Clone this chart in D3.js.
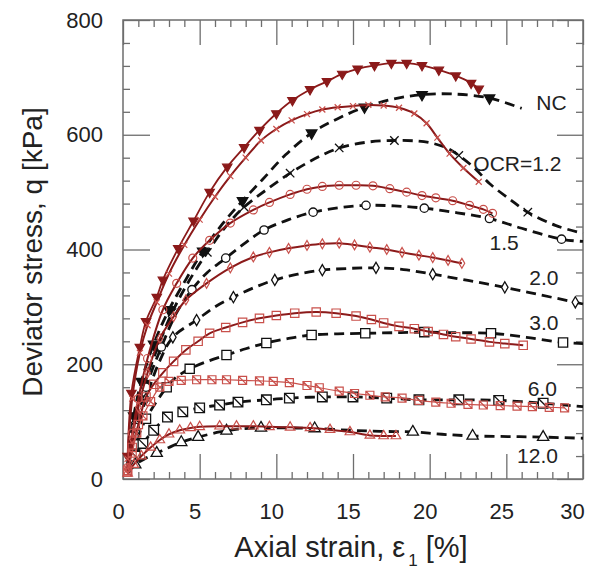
<!DOCTYPE html>
<html><head><meta charset="utf-8">
<script src="https://cdn.jsdelivr.net/npm/d3@7"></script>
<style>
html,body{margin:0;padding:0;background:#fff;}
svg{display:block;font-family:"Liberation Sans",Arial,sans-serif;}
</style></head>
<body>
<svg id="chart" width="589" height="569"></svg>
<script>
// ---------- data (axial strain %, deviator stress kPa) ----------
const xTicks = [0, 5, 10, 15, 20, 25, 30];
const yTicks = [0, 200, 400, 600, 800];
const ocrLabels = ["NC", "OCR=1.2", "1.5", "2.0", "3.0", "6.0", "12.0"];

// simulations (solid red lines, marker at every point)
const redNC = [[0.3,40],[0.55,150],[1.1,230],[1.5,275],[2.2,317],[2.6,347],[3.6,402],[4.6,450],[5.65,500],[6.8,544],[7.9,578],[8.9,608],[10.0,637],[11.05,660],[12.2,679],[13.3,693],[14.3,706],[15.3,715],[16.4,721],[17.5,725],[18.5,725],[19.5,721],[20.6,713],[21.7,703],[22.7,690],[23.2,680]];
const red12 = [[0.3,35],[0.6,140],[1.1,220],[1.6,268],[2.2,308],[3.0,358],[4.0,408],[5.0,452],[6.0,492],[7.0,528],[8.0,560],[9.0,590],[10.0,610],[11.0,625],[12.0,636],[13.0,644],[14.0,648],[15.0,650],[16.0,652],[17.0,651],[18.0,647],[19.0,637],[19.8,620],[20.5,595],[21.3,567],[22.2,542],[23.2,518]];
const red15 = [[0.3,20],[0.6,80],[1.0,140],[1.6,210],[2.6,295],[3.5,341],[4.55,385],[5.65,416],[7.0,446],[8.5,469],[9.55,482],[10.9,496],[12.0,505],[13.0,510],[14.1,512],[15.2,512],[16.3,511],[17.4,506],[18.5,500],[19.5,494],[20.4,490],[21.5,485],[22.6,477],[23.5,470],[24.1,463]];
const red20 = [[0.3,18],[0.6,70],[1.0,125],[1.6,185],[2.4,245],[3.3,283],[4.1,312],[5.45,341],[7.0,368],[8.5,387],[9.55,395],[10.8,402],[12.0,407],[13.0,410],[14.1,411],[15.1,408],[16.1,404],[17.2,400],[18.2,395],[19.3,390],[20.2,386],[21.2,381],[22.1,376]];
const red30 = [[0.3,15],[0.6,55],[1.0,95],[1.5,143],[2.0,165],[2.6,185],[3.3,205],[4.1,225],[4.9,240],[5.65,254],[6.7,264],[7.8,273],[8.9,280],[10.0,285],[11.2,289],[12.6,291],[13.9,289],[15.2,284],[16.2,278],[17.0,272],[18.0,266],[19.0,262],[19.9,257],[20.9,252],[21.7,248],[22.7,244],[23.9,239],[24.9,236],[26.1,233]];
const red60 = [[0.3,12],[0.6,45],[0.9,80],[1.3,110],[1.8,135],[2.4,160],[3.0,170],[3.8,172],[4.8,173],[5.8,173],[6.75,173],[7.8,172],[8.9,171],[9.8,170],[10.85,168],[12.0,163],[12.8,159],[14.1,153],[15.1,149],[16.1,146],[17.1,143],[18.2,141],[19.3,137],[20.4,134],[21.4,132],[22.5,130],[23.5,129],[24.6,128],[25.7,127],[26.7,126],[27.8,125],[28.8,124]];
const red120 = [[0.3,10],[0.7,25],[1.2,40],[1.8,55],[2.4,68],[3.0,78],[3.7,85],[4.4,89],[5.0,91],[6.3,92],[7.4,92],[8.5,92],[9.55,91],[10.9,90],[12.2,89],[13.5,86],[14.8,82],[16.1,76],[17.0,75],[17.8,75]];

// experiments (dashed black lines, third value = 1 where a marker is drawn)
const blackNC = [[0.3,25,0],[0.7,110,1],[1.2,170,1],[2.0,235,1],[3.0,295,1],[4.15,350,0],[5.2,397,1],[6.5,445,0],[7.8,485,1],[9.1,522,0],[10.6,565,0],[12.3,603,1],[14.0,628,0],[15.75,648,1],[17.6,662,0],[19.5,670,1],[21.5,671,0],[23.9,664,1],[26.0,646,0]];
const black12 = [[0.3,25,0],[0.8,105,1],[1.4,165,1],[2.2,225,1],[3.2,290,1],[4.3,345,0],[5.5,395,1],[6.7,440,0],[7.9,474,1],[9.4,505,0],[10.9,533,1],[12.5,558,0],[14.1,577,1],[15.9,587,0],[17.7,590,1],[19.2,589,0],[20.2,585,0],[21.1,577,0],[21.9,564,1],[23.0,540,0],[23.9,515,0],[25.2,488,0],[26.4,465,1],[28.2,442,0],[30,428,0]];
const black15 = [[0.3,20,0],[0.8,90,1],[1.5,160,1],[2.5,230,1],[3.5,290,0],[4.5,330,1],[5.5,360,0],[6.7,385,1],[8.0,412,0],[9.2,434,1],[10.8,452,0],[12.4,465,1],[14.1,473,0],[15.85,477,1],[17.7,476,0],[19.65,472,1],[21.8,464,0],[23.9,454,1],[26.0,437,0],[28.6,418,1],[30,414,0]];
const black20 = [[0.3,18,0],[0.8,75,1],[1.5,140,1],[2.3,200,0],[3.25,247,1],[4.8,277,1],[6.0,300,0],[7.2,317,1],[8.5,333,0],[9.9,347,1],[11.4,357,0],[13.0,364,1],[14.7,367,0],[16.5,368,1],[18.3,365,0],[20.2,357,1],[22.5,346,0],[24.9,334,1],[27.2,321,0],[29.5,308,1],[30,305,0]];
const black30 = [[0.3,15,0],[0.8,60,1],[1.5,105,1],[2.85,160,1],[3.4,176,0],[4.35,192,1],[5.5,205,0],[6.75,216,1],[8.0,227,0],[9.35,237,1],[10.8,245,0],[12.3,251,1],[14.0,253,0],[15.8,254,1],[17.7,255,0],[19.65,256,1],[21.8,255,0],[24.0,254,1],[26.3,247,0],[28.7,238,1],[30,236,0]];
const black60 = [[0.3,12,0],[0.8,40,1],[1.3,62,1],[2.0,85,1],[2.9,108,1],[3.9,117,1],[5.0,124,1],[6.3,129,1],[7.5,134,1],[9.35,138,1],[10.85,141,1],[13.0,143,1],[15.0,143,1],[17.2,141,1],[19.3,138,1],[21.9,138,1],[24.5,137,1],[27.4,132,1],[30,126,0]];
const black120 = [[0.3,10,0],[0.8,25,1],[1.4,35,0],[2.2,45,1],[3.0,55,0],[3.8,64,1],[4.9,73,1],[6.3,82,0],[6.75,84,1],[7.5,87,0],[9.0,89,1],[10.85,89,0],[12.5,88,1],[14.8,85,0],[16.8,83,0],[18.9,82,1],[20.8,78,0],[22.8,75,1],[25.1,74,0],[27.4,73,1],[30,71,0]];

// ---------- layout ----------
const x = d3.scaleLinear().domain([0, 30]).range([123, 583]);
const y = d3.scaleLinear().domain([0, 800]).range([479, 20]);
const svg = d3.select("#chart");
const TXT = "#222", AX = "#6e6e6e";
const DARKRED = "#8b1a1a", LIGHTRED = "#c9504b", BLACK = "#111";

// axes with inward ticks on all sides
const minorX = d3.range(0, 31, 1).filter(v => v % 5 !== 0);
const minorY = d3.range(0, 801, 40).filter(v => v % 200 !== 0);
function styleAxis(g){ g.select(".domain").remove(); g.selectAll("line").attr("stroke", AX).attr("stroke-width", 1.3); g.selectAll("text").attr("fill", TXT).attr("font-size", 22); }
svg.append("g").attr("transform","translate(0,479)").call(d3.axisBottom(x).tickValues(xTicks).tickSize(-25).tickPadding(24).tickFormat(d3.format("d"))).call(styleAxis)
  .selectAll("text").attr("dx", d => d === 30 ? -11 : -5);
svg.append("g").attr("transform","translate(0,479)").call(d3.axisBottom(x).tickValues(minorX).tickSize(-7).tickFormat("")).call(styleAxis);
svg.append("g").attr("transform","translate(0,20)").call(d3.axisTop(x).tickValues(xTicks).tickSize(-25).tickFormat("")).call(styleAxis);
svg.append("g").attr("transform","translate(0,20)").call(d3.axisTop(x).tickValues(minorX).tickSize(-7).tickFormat("")).call(styleAxis);
svg.append("g").attr("transform","translate(123,0)").call(d3.axisLeft(y).tickValues(yTicks).tickSize(-27).tickPadding(20).tickFormat(d3.format("d"))).call(styleAxis);
svg.append("g").attr("transform","translate(123,0)").call(d3.axisLeft(y).tickValues(minorY).tickSize(-7).tickFormat("")).call(styleAxis);
svg.append("g").attr("transform","translate(583,0)").call(d3.axisRight(y).tickValues(yTicks).tickSize(-26).tickFormat("")).call(styleAxis);
svg.append("g").attr("transform","translate(583,0)").call(d3.axisRight(y).tickValues(minorY).tickSize(-7).tickFormat("")).call(styleAxis);
svg.append("rect").attr("x", x(0)).attr("y", y(800)).attr("width", x(30)-x(0)).attr("height", y(0)-y(800))
  .attr("fill","none").attr("stroke", AX).attr("stroke-width", 1.5);

// axis titles
const xt = svg.append("text").attr("x", 351).attr("y", 557).attr("text-anchor","middle").attr("font-size", 29).attr("fill", TXT);
xt.append("tspan").text("Axial strain, ε");
xt.append("tspan").attr("font-size", 17).attr("dy", 9).attr("dx", 3).text("1");
xt.append("tspan").attr("dy", -9).text(" [%]");
svg.append("text").attr("transform","translate(42,252) rotate(-90)").attr("text-anchor","middle")
  .attr("font-size", 28).attr("fill", TXT).text("Deviator stress, q [kPa]");

// marker shapes
const sym = {
  triDown: d3.symbol().type(d3.symbolTriangle),
  triUp: d3.symbol().type(d3.symbolTriangle),
  circle: d3.symbol().type(d3.symbolCircle),
  diamond: d3.symbol().type(d3.symbolDiamond),
  square: d3.symbol().type(d3.symbolSquare)
};
function markerPath(kind, s){
  if (kind === "slashSquare") return `M${-s},${-s}H${s}V${s}H${-s}Z M${-s},${-s}L${s},${s}`;
  if (kind === "x") return `M${-s},${-s}L${s},${s}M${-s},${s}L${s},${-s}`;
  return null;
}
function drawMarkers(g, pts, kind, size, stroke, fill, sw){
  g.selectAll(null).data(pts).join("path")
    .attr("transform", d => `translate(${x(d[0])},${y(d[1])})` + (kind==="triDown" ? " rotate(180)" : ""))
    .attr("d", () => markerPath(kind, size) || sym[kind].size(size)())
    .attr("fill", fill).attr("stroke", stroke).attr("stroke-width", sw);
}

const line = d3.line().x(d => x(d[0])).y(d => y(d[1])).curve(d3.curveCatmullRom.alpha(0.5));

const redSeries = [
  {data: redNC, kind: "triDown", size: 38, stroke: DARKRED, fill: DARKRED, lw: 1.8, lc: DARKRED},
  {data: red12, kind: "x", size: 3, stroke: LIGHTRED, fill: "none", lw: 2, lc: DARKRED},
  {data: red15, kind: "circle", size: 50, stroke: LIGHTRED, fill: "none", lw: 2, lc: DARKRED},
  {data: red20, kind: "diamond", size: 28, stroke: LIGHTRED, fill: "none", lw: 2, lc: DARKRED},
  {data: red30, kind: "square", size: 70, stroke: LIGHTRED, fill: "none", lw: 2, lc: DARKRED},
  {data: red60, kind: "slashSquare", size: 4, stroke: LIGHTRED, fill: "none", lw: 1.2, lc: LIGHTRED},
  {data: red120, kind: "triUp", size: 40, stroke: LIGHTRED, fill: "none", lw: 2, lc: DARKRED}
];
const blackSeries = [
  {data: blackNC, kind: "triDown", size: 48, fill: BLACK},
  {data: black12, kind: "x", size: 4.2, fill: "none"},
  {data: black15, kind: "circle", size: 55, fill: "#fff"},
  {data: black20, kind: "diamond", size: 36, fill: "#fff"},
  {data: black30, kind: "square", size: 85, fill: "#fff"},
  {data: black60, kind: "slashSquare", size: 4.8, fill: "#fff"},
  {data: black120, kind: "triUp", size: 55, fill: "#fff"}
];

const gBlack = svg.append("g");
const gRed = svg.append("g");
blackSeries.forEach(s => {
  gBlack.append("path").datum(s.data).attr("d", line).attr("fill","none")
    .attr("stroke", BLACK).attr("stroke-width", 2.8).attr("stroke-dasharray", "10,6");
});
redSeries.forEach(s => {
  gRed.append("path").datum(s.data).attr("d", line).attr("fill","none")
    .attr("stroke", s.lc).attr("stroke-width", s.lw);
});
redSeries.forEach(s => {
  drawMarkers(gRed.append("g"), s.data, s.kind, s.size, s.stroke, s.fill, 1.2);
});
blackSeries.forEach(s => {
  drawMarkers(gBlack.append("g"), s.data.filter(d => d[2] === 1), s.kind, s.size, BLACK, s.fill, 1.3);
});

// curve labels (anchors in data units)
const labelAnchors = [[26.95,643],[22.85,537],[23.9,399],[26.5,338],[26.5,260],[26.4,145],[25.7,28]];
svg.append("g").selectAll("text").data(ocrLabels).join("text")
  .attr("x", (d,i) => x(labelAnchors[i][0])).attr("y", (d,i) => y(labelAnchors[i][1]))
  .attr("font-size", 21).attr("fill", TXT).text(d => d);
</script>
</body></html>
